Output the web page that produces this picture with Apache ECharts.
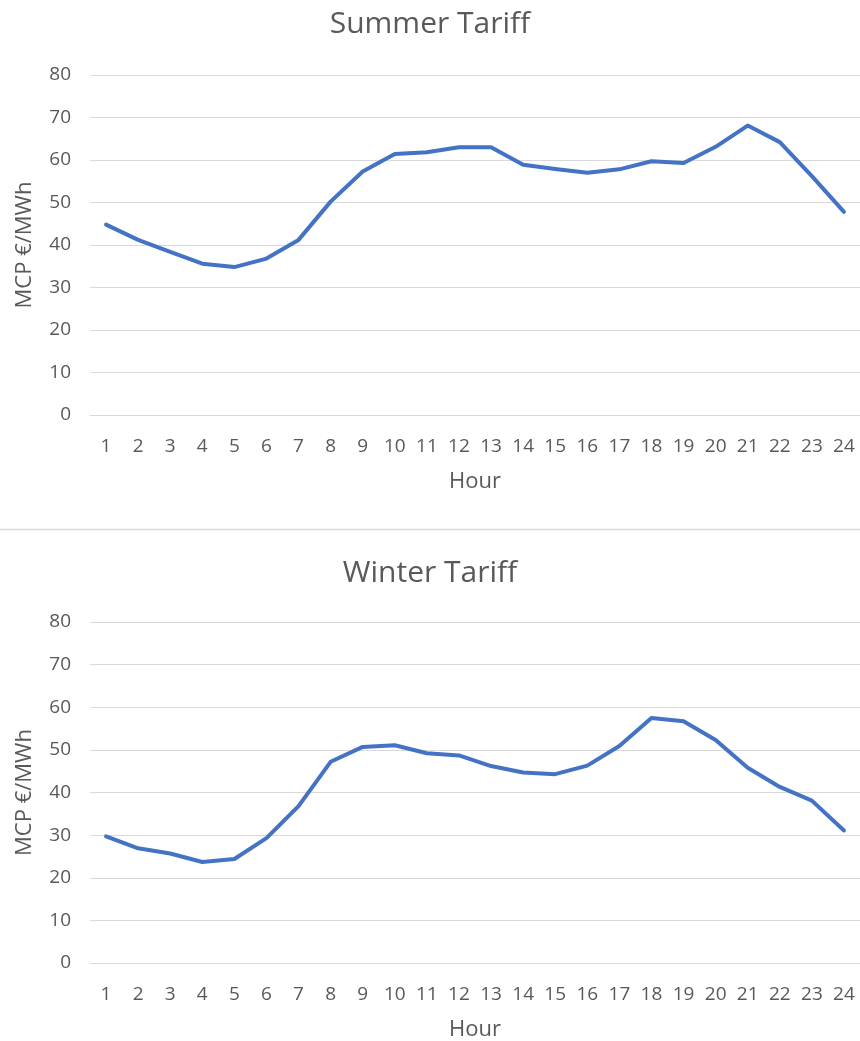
<!DOCTYPE html>
<html>
<head>
<meta charset="utf-8">
<title>Summer and Winter Tariff</title>
<script src="https://cdn.jsdelivr.net/npm/echarts@6/dist/echarts.min.js"></script>
<style>
  html, body { margin: 0; padding: 0; background: #ffffff; }
  #chart { width: 860px; height: 1041px; }
</style>
</head>
<body>
<div id="chart"></div>
<script>
// Hours of the day
const hours = ['1','2','3','4','5','6','7','8','9','10','11','12','13','14','15','16','17','18','19','20','21','22','23','24'];

// Market clearing price (€/MWh) per hour
const summerPrice = [44.8, 41.2, 38.4, 35.6, 34.8, 36.8, 41.2, 50.2, 57.3, 61.4, 61.8, 63.0, 63.0, 58.9, 57.9, 57.0, 57.8, 59.7, 59.3, 63.1, 68.1, 64.2, 56.2, 47.8];
const winterPrice = [29.7, 26.9, 25.7, 23.7, 24.4, 29.3, 36.8, 47.2, 50.7, 51.1, 49.2, 48.7, 46.2, 44.7, 44.3, 46.3, 50.9, 57.5, 56.7, 52.3, 45.8, 41.3, 38.1, 31.1];

const titles = ['Summer Tariff', 'Winter Tariff'];
const yTicks = { min: 0, max: 80, interval: 10 };

const FONT = '"Open Sans", "Noto Sans", sans-serif';
const TEXT = '#595959';
const GRID_LINE = '#d9d9d9';
const LINE_BLUE = '#4472c4';

const gridTops = [75, 622];
const gridHeights = [340, 341];
const titleTops = [4, 553];

function xAxisFor(i) {
  return {
    type: 'category',
    gridIndex: i,
    data: hours,
    boundaryGap: true,
    axisLine: { show: true, lineStyle: { color: GRID_LINE, width: 1 } },
    axisTick: { show: false },
    axisLabel: { color: TEXT, fontFamily: FONT, fontSize: 19, margin: 22, interval: 0 },
    name: 'Hour',
    nameLocation: 'middle',
    nameGap: 56,
    nameTextStyle: { color: TEXT, fontFamily: FONT, fontSize: 22 }
  };
}

function yAxisFor(i) {
  return {
    type: 'value',
    gridIndex: i,
    min: yTicks.min,
    max: yTicks.max,
    interval: yTicks.interval,
    axisLine: { show: false },
    axisTick: { show: false },
    splitLine: { show: true, lineStyle: { color: GRID_LINE, width: 1 } },
    axisLabel: { color: TEXT, fontFamily: FONT, fontSize: 19, margin: 19 },
    name: 'MCP €/MWh',
    nameLocation: 'middle',
    nameGap: 54,
    nameTextStyle: { color: TEXT, fontFamily: FONT, fontSize: 22 }
  };
}

const option = {
  animation: false,
  backgroundColor: '#ffffff',
  title: titles.map((t, i) => ({
    text: t,
    left: 'center',
    top: titleTops[i],
    textStyle: { color: TEXT, fontFamily: FONT, fontSize: 30, fontWeight: 'normal' }
  })),
  grid: gridTops.map((top, i) => ({
    left: 90, right: 0, top: top, height: gridHeights[i],
    containLabel: false, outerBoundsMode: 'none'
  })),
  xAxis: [xAxisFor(0), xAxisFor(1)],
  yAxis: [yAxisFor(0), yAxisFor(1)],
  series: [
    {
      name: titles[0], type: 'line', xAxisIndex: 0, yAxisIndex: 0,
      data: summerPrice, symbol: 'none',
      lineStyle: { color: LINE_BLUE, width: 4, cap: 'round', join: 'round' }
    },
    {
      name: titles[1], type: 'line', xAxisIndex: 1, yAxisIndex: 1,
      data: winterPrice, symbol: 'none',
      lineStyle: { color: LINE_BLUE, width: 4, cap: 'round', join: 'round' }
    }
  ],
  graphic: [
    {
      // divider between the two panels
      type: 'line',
      shape: { x1: 0, y1: 529.5, x2: 860, y2: 529.5 },
      style: { stroke: GRID_LINE, lineWidth: 1.5 }
    }
  ]
};

const chart = echarts.init(document.getElementById('chart'), null, { renderer: 'canvas' });
chart.setOption(option);
</script>
</body>
</html>
